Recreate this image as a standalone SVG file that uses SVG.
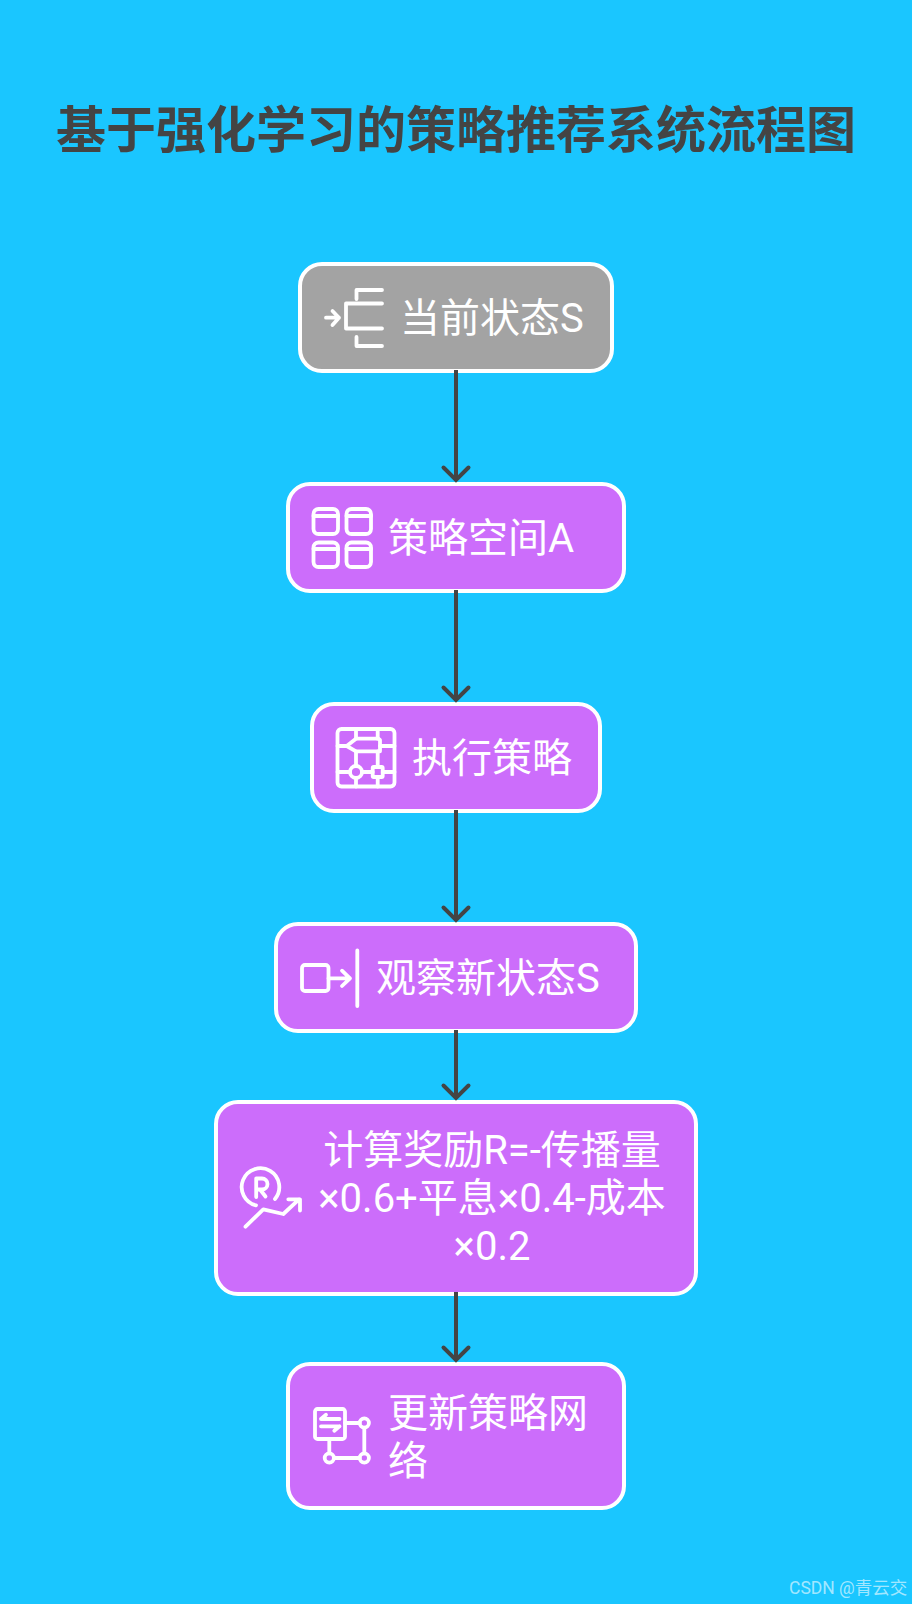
<svg xmlns="http://www.w3.org/2000/svg" width="912" height="1604" viewBox="0 0 912 1604">
<style>
.n{stroke:#fff;stroke-width:4}
.p{fill:#cc6dfb}
.g{fill:#a3a3a3}
.t{font-family:Roboto,"Noto Sans CJK SC",sans-serif;font-size:40px;fill:#fff}
.i{fill:none;stroke:#fff;stroke-width:3.8;stroke-linecap:round;stroke-linejoin:round}
.c{fill:none;stroke:#444;stroke-width:4}
</style>
<defs>
<marker id="ah" markerUnits="userSpaceOnUse" markerWidth="34" markerHeight="24" refX="17" refY="20" orient="0" viewBox="0 0 34 24">
<path d="M4.5 7.5L17 20L29.5 7.5" fill="none" stroke="#444" stroke-width="4" stroke-linecap="round"/>
</marker>
</defs>
<rect width="912" height="1604" fill="#1ac6ff"/>
<text id="title" x="456" y="148" text-anchor="middle" font-family="'Noto Sans CJK SC',sans-serif" font-size="50" font-weight="700" fill="#444">基于强化学习的策略推荐系统流程图</text>
<g id="node1">
<rect class="n g" x="300" y="264" width="312" height="107" rx="22"/>
<path class="i" d="M326 317.7H339M332.5 311L339 317.7L332.5 325M382 303.5H346V328.5H382M382 290H356.5V299M356.5 337V346H382"/>
<text class="t" x="400" y="332">当前状态S</text>
</g>
<g id="node2">
<rect class="n p" x="288" y="484" width="336" height="107" rx="22"/>
<g class="i">
<rect x="313.5" y="509" width="24.5" height="25" rx="5"/><path d="M313.5 516H338"/>
<rect x="346.5" y="509" width="24.5" height="25" rx="5"/><path d="M346.5 516H371"/>
<rect x="313.5" y="542.5" width="24.5" height="24.5" rx="5"/><path d="M313.5 549H338"/>
<rect x="346.5" y="542.5" width="24.5" height="24.5" rx="5"/><path d="M346.5 549H371"/>
</g>
<text class="t" x="388" y="552">策略空间A</text>
</g>
<g id="node3">
<rect class="n p" x="312" y="704" width="288" height="107" rx="22"/>
<g class="i">
<rect x="337.5" y="729" width="57" height="57.5" rx="4"/>
<path d="M346.7 746L356 738.7H378.5L380 740V751.3H356Z"/>
<circle cx="356" cy="772" r="6"/>
<rect x="372.7" y="767" width="10" height="10" rx="1"/>
<path d="M356 729V738.7M377.7 729V738.7M337.5 746H346.7M380 746H394.5M356 751.3V766M377.7 751.3V767M337.5 772H350M362 772H372.7M382.7 772H394.5M356 778V786.5M377.7 777V786.5"/>
</g>
<text class="t" x="412" y="772">执行策略</text>
</g>
<g id="node4">
<rect class="n p" x="276" y="924" width="360" height="107" rx="22"/>
<g class="i">
<rect x="302" y="965" width="26.5" height="26" rx="3"/>
<path d="M328.5 978.3H350M342 970.7L350 978.3L342 986M357.3 950.5V1006"/>
</g>
<text class="t" x="376" y="992">观察新状态S</text>
</g>
<g id="node5">
<rect class="n p" x="216" y="1102" width="480" height="192" rx="22"/>
<g class="i">
<path d="M256 1205.3A18.8 18.8 0 1 1 275 1199"/>
<path d="M256.2 1197V1178.5H262A5.5 5.5 0 0 1 262 1189.5H256.5M260 1189.5L265.5 1196.5"/>
<path d="M245.5 1226.7L263.3 1209.3L283.3 1214L299 1199.3M288.3 1199.3H300V1210.5"/>
</g>
<text class="t" text-anchor="middle" x="492" y="1164">计算奖励R=-传播量</text>
<text class="t" text-anchor="middle" x="492" y="1212">×0.6+平息×0.4-成本</text>
<text class="t" text-anchor="middle" x="492" y="1260">×0.2</text>
</g>
<g id="node6">
<rect class="n p" x="288" y="1364" width="336" height="144" rx="22"/>
<g class="i">
<rect x="315" y="1409" width="30" height="30" rx="2.5"/>
<path d="M321 1419H339.5M321 1419L326 1414.7M321 1426.3H339.5M339.5 1426.3L334.3 1430.7"/>
<circle cx="364.3" cy="1423" r="4.6"/><circle cx="329.3" cy="1458" r="4.6"/><circle cx="364.3" cy="1458" r="4.6"/>
<path d="M345 1423H359.7M364.3 1427.6V1453.4M329.3 1439V1453.4M334 1458H359.7"/>
</g>
<text class="t" x="388" y="1427">更新策略网</text>
<text class="t" x="388" y="1475">络</text>
</g>
<g id="connectors">
<path class="c" d="M456 370V480" marker-end="url(#ah)"/>
<path class="c" d="M456 590V700" marker-end="url(#ah)"/>
<path class="c" d="M456 810V920" marker-end="url(#ah)"/>
<path class="c" d="M456 1030V1098" marker-end="url(#ah)"/>
<path class="c" d="M456 1292V1360" marker-end="url(#ah)"/>
</g>
<text id="watermark" x="789" y="1594" font-family="Roboto,'Noto Sans CJK SC',sans-serif" font-size="17.5" fill="#fff" fill-opacity=".6">CSDN @青云交</text>
</svg>
